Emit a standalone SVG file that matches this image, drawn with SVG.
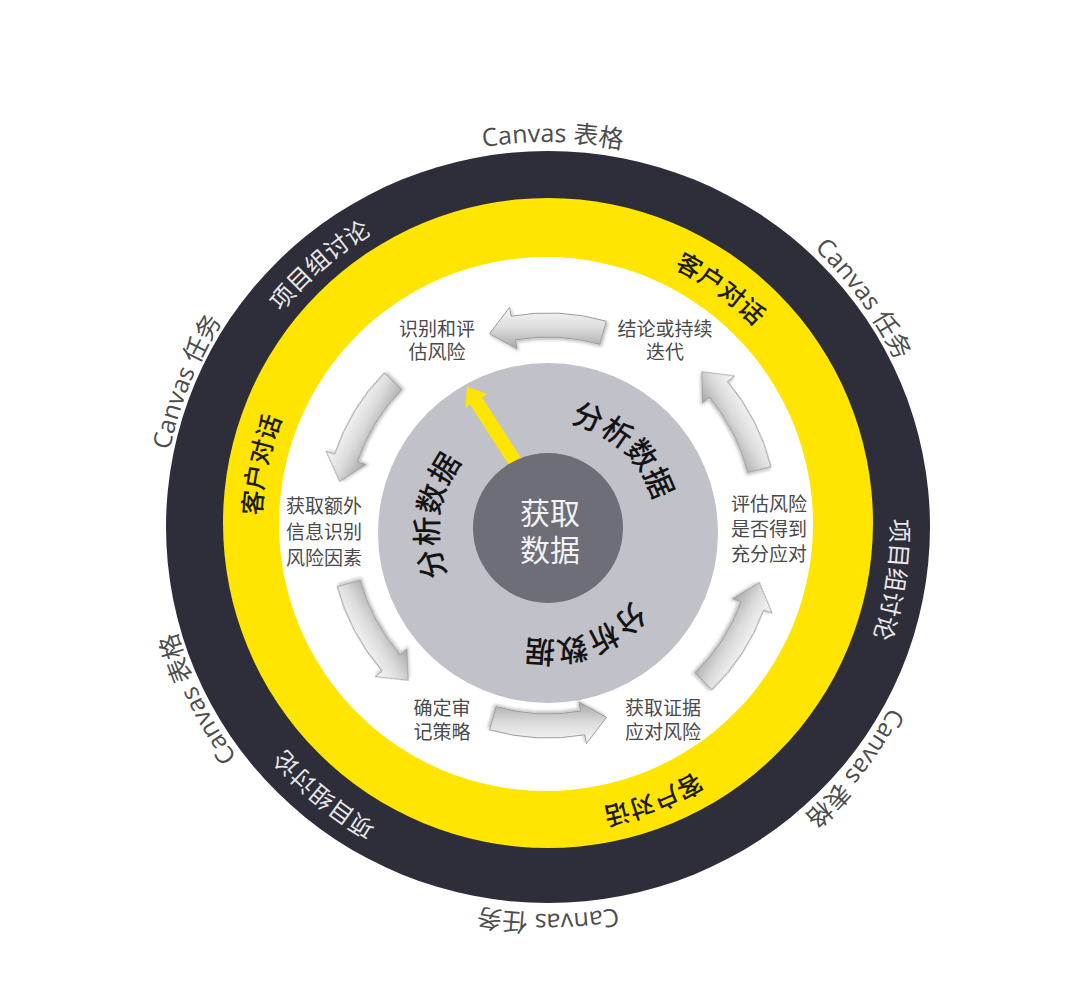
<svg xmlns="http://www.w3.org/2000/svg" width="1080" height="1002" viewBox="0 0 1080 1002">
<defs>
<style>
.outer{font-family:'Open Sans','Noto Sans CJK SC',sans-serif;font-size:25px;fill:#4d4d4d;text-anchor:middle;}
.ring{font-family:'Noto Sans CJK SC',sans-serif;font-size:24px;fill:#e8e8e8;text-anchor:middle;}
.yel{font-family:'Noto Sans CJK SC',sans-serif;font-size:25px;font-weight:500;fill:#1c1c1c;text-anchor:middle;}
.gray{font-family:'Noto Sans CJK SC',sans-serif;font-size:30px;font-weight:500;fill:#141414;text-anchor:middle;}
.stage{font-family:'Noto Sans CJK SC',sans-serif;font-size:19px;fill:#4a4a4a;text-anchor:middle;}
.core{font-family:'Noto Sans CJK SC',sans-serif;font-size:30px;fill:#f2f2f2;text-anchor:middle;}
.arrow{fill:url(#ag);stroke:#9c9c9c;stroke-width:1;filter:url(#sh);}
</style>
<linearGradient id="ag" x1="0" y1="0" x2="0" y2="1">
<stop offset="0" stop-color="#f8f8f8"/>
<stop offset="0.5" stop-color="#dcdcdc"/>
<stop offset="1" stop-color="#a8a8a8"/>
</linearGradient>
<filter id="sh" x="-20%" y="-20%" width="140%" height="140%">
<feDropShadow dx="1.5" dy="2" stdDeviation="1.5" flood-color="#000" flood-opacity="0.25"/>
</filter>
<path id="arr" d="M58.4,-203.8 A212,212 0 0 0 -36.8,-208.8 L-38.4,-217.6 L-58.5,-191.3 L-31.1,-176.3 L-32.6,-185.1 A188,188 0 0 1 51.8,-180.7 Z"/>
<path id="pOuter" d="M548,914 A386,386 0 0 1 548,142 A386,386 0 0 1 548,914 A386,386 0 0 1 548,142 A386,386 0 0 1 548,914"/>
<path id="pDark" d="M548,871 A343,343 0 0 1 548,185 A343,343 0 0 1 548,871 A343,343 0 0 1 548,185 A343,343 0 0 1 548,871"/>
<path id="pYel" d="M548,813 A287,287 0 0 1 548,239 A287,287 0 0 1 548,813 A287,287 0 0 1 548,239 A287,287 0 0 1 548,813"/>
<path id="pGray" d="M548,641 A110,110 0 0 1 548,421 A110,110 0 0 1 548,641 A110,110 0 0 1 548,421 A110,110 0 0 1 548,641"/>
</defs>
<rect width="1080" height="1002" fill="#ffffff"/>

<g id="ring-outer">
<ellipse cx="548" cy="527" rx="382" ry="376" fill="#2d2e39"/>
</g>
<g id="ring-yellow">
<circle cx="548" cy="523" r="325" fill="#ffe500"/>
</g>
<g id="ring-white">
<circle cx="546" cy="524" r="267" fill="#ffffff"/>
</g>
<g id="disc-gray">
<circle cx="548" cy="533" r="170" fill="#c1c1c9"/>
</g>
<g id="pointer" transform="translate(517,465) rotate(-32.5)">
<polygon points="-7,25 -7,-76 -13,-76 0,-93 13,-76 7,-76 7,25" fill="#ffe500"/>
</g>
<g id="core">
<circle cx="548" cy="528" r="75" fill="#6e6e78"/>
<text class="core" x="550" y="524">获取</text>
<text class="core" x="550" y="561">数据</text>
</g>

<g id="labels-outer">
<text class="outer"><textPath href="#pOuter" startOffset="25.1%">Canvas 表格</textPath></text>
<text class="outer"><textPath href="#pOuter" startOffset="32.5%">Canvas 任务</textPath></text>
<text class="outer"><textPath href="#pOuter" startOffset="42.78%">Canvas 表格</textPath></text>
<text class="outer"><textPath href="#pOuter" startOffset="50%">Canvas 任务</textPath></text>
<text class="outer"><textPath href="#pOuter" startOffset="58.89%">Canvas 表格</textPath></text>
<text class="outer"><textPath href="#pOuter" startOffset="65.56%">Canvas 任务</textPath></text>
</g>
<g id="labels-dark">
<text class="ring"><textPath href="#pDark" startOffset="69.31%">项目组讨论</textPath></text>
<text class="ring"><textPath href="#pDark" startOffset="38.68%">项目组讨论</textPath></text>
<text class="ring"><textPath href="#pDark" startOffset="55.56%">项目组讨论</textPath></text>
</g>
<g id="labels-yellow">
<text class="yel"><textPath href="#pYel" startOffset="30%">客户对话</textPath></text>
<text class="yel"><textPath href="#pYel" startOffset="64.17%">客户对话</textPath></text>
<text class="yel"><textPath href="#pYel" startOffset="47.08%">客户对话</textPath></text>
</g>
<g id="labels-gray">
<text class="gray"><textPath href="#pGray" startOffset="30.97%">分析数据</textPath></text>
<text class="gray"><textPath href="#pGray" startOffset="63.56%">分析数据</textPath></text>
<text class="gray"><textPath href="#pGray" startOffset="47.28%">分析数据</textPath></text>
</g>

<g id="stage-identify"><text class="stage" x="437" y="336">识别和评</text><text class="stage" x="437" y="359">估风险</text></g>
<g id="stage-conclude"><text class="stage" x="665" y="336">结论或持续</text><text class="stage" x="665" y="359">迭代</text></g>
<g id="stage-extra"><text class="stage" x="324" y="513">获取额外</text><text class="stage" x="324" y="539">信息识别</text><text class="stage" x="324" y="565">风险因素</text></g>
<g id="stage-evaluate"><text class="stage" x="769" y="511">评估风险</text><text class="stage" x="769" y="536">是否得到</text><text class="stage" x="769" y="561">充分应对</text></g>
<g id="stage-strategy"><text class="stage" x="442" y="715">确定审</text><text class="stage" x="442" y="739">记策略</text></g>
<g id="stage-evidence"><text class="stage" x="663" y="715">获取证据</text><text class="stage" x="663" y="739">应对风险</text></g>

<g id="connectors">
<use href="#arr" class="arrow" transform="translate(548,528) rotate(0) translate(0,-3)"/>
<use href="#arr" class="arrow" transform="translate(548,528) rotate(-61.5) translate(0,-14)"/>
<use href="#arr" class="arrow" transform="translate(548,528) rotate(-121) translate(0,-7)"/>
<use href="#arr" class="arrow" transform="translate(548,528) rotate(180) translate(0,2)"/>
<use href="#arr" class="arrow" transform="translate(548,528) rotate(120) translate(0,-19)"/>
<use href="#arr" class="arrow" transform="translate(548,528) rotate(60) translate(0,-20)"/>
</g>
</svg>
